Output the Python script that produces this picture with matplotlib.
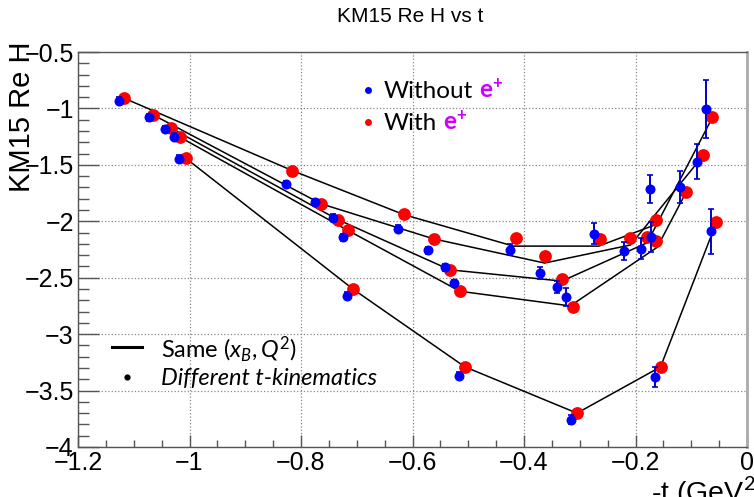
import numpy as np
import matplotlib
matplotlib.use('Agg')
import matplotlib.pyplot as plt
from matplotlib.ticker import MultipleLocator

W, H = 754, 497

# KM15 model lines, one per (xB, Q2) bin
line1_t = [-1.117, -0.816, -0.616, -0.419, -0.266, -0.164]
line1_y = [-0.91, -1.55, -1.94, -2.22, -2.22, -2.03]
line2_t = [-1.066, -0.764, -0.562, -0.363, -0.209, -0.079]
line2_y = [-1.055, -1.845, -2.156, -2.37, -2.21, -1.42]
line3_t = [-1.033, -0.734, -0.533, -0.332, -0.179, -0.062]
line3_y = [-1.175, -1.985, -2.43, -2.53, -2.19, -1.08]
line4_t = [-1.017, -0.716, -0.515, -0.317, -0.161, -0.110]
line4_y = [-1.255, -2.08, -2.62, -2.75, -2.23, -1.75]
line5_t = [-1.007, -0.707, -0.506, -0.305, -0.155, -0.055]
line5_y = [-1.44, -2.60, -3.29, -3.70, -3.29, -2.01]

# extraction with e+
with_t = [-1.117, -0.816, -0.616, -0.415, -0.264, -0.164,
          -1.066, -0.764, -0.562, -0.363, -0.210, -0.079,
          -1.033, -0.734, -0.533, -0.332, -0.179, -0.062,
          -1.017, -0.716, -0.515, -0.313, -0.163, -0.110,
          -1.007, -0.707, -0.506, -0.305, -0.155, -0.055]
with_y = [-0.907, -1.551, -1.932, -2.151, -2.156, -1.985,
          -1.055, -1.844, -2.156, -2.310, -2.147, -1.410,
          -1.173, -1.985, -2.428, -2.511, -2.142, -1.076,
          -1.253, -2.080, -2.620, -2.762, -2.171, -1.740,
          -1.439, -2.599, -3.294, -3.698, -3.294, -2.009]

# extraction without e+
without_t = [-1.126, -0.827, -0.626, -0.426, -0.275, -0.174,
             -1.073, -0.775, -0.572, -0.372, -0.221, -0.089,
             -1.044, -0.743, -0.542, -0.341, -0.191, -0.073,
             -1.027, -0.725, -0.526, -0.324, -0.172, -0.121,
             -1.018, -0.717, -0.516, -0.315, -0.165, -0.064]
without_y = [-0.931, -1.669, -2.065, -2.251, -2.109, -1.711,
             -1.079, -1.829, -2.257, -2.458, -2.266, -1.474,
             -1.182, -1.968, -2.408, -2.582, -2.242, -1.005,
             -1.250, -2.142, -2.546, -2.670, -2.140, -1.696,
             -1.445, -2.659, -3.367, -3.757, -3.382, -2.089]
without_err = [0.03, 0.03, 0.03, 0.05, 0.095, 0.125,
               0.03, 0.03, 0.03, 0.05, 0.08, 0.155,
               0.03, 0.03, 0.03, 0.05, 0.095, 0.26,
               0.03, 0.03, 0.03, 0.08, 0.13, 0.145,
               0.03, 0.03, 0.03, 0.04, 0.09, 0.2]

xtick_labels = ['\u22121.2', '\u22121', '\u22120.8', '\u22120.6', '\u22120.4', '\u22120.2', '0']
ytick_labels = ['\u22124', '\u22123.5', '\u22123', '\u22122.5', '\u22122', '\u22121.5', '\u22121', '\u22120.5']

plt.rcParams['font.family'] = ['Liberation Sans', 'DejaVu Sans']
plt.rcParams['mathtext.fontset'] = 'custom'
plt.rcParams['mathtext.rm'] = 'Lato'
plt.rcParams['mathtext.it'] = 'Lato:italic'
plt.rcParams['mathtext.bf'] = 'Lato:bold'


def fx(x):
    return x / W


def fy(y):
    return 1 - y / H


fig = plt.figure(figsize=(W / 100, H / 100), dpi=100)
ax = fig.add_axes([fx(78), fy(447), (747 - 78) / W, (447 - 52) / H])

for t, y in [(line1_t, line1_y), (line2_t, line2_y), (line3_t, line3_y),
             (line4_t, line4_y), (line5_t, line5_y)]:
    ax.plot(t, y, color='black', lw=1.1, zorder=2)

ax.plot(with_t, with_y, 'o', color='#ff0000', ms=9.2, mec='none', zorder=3)
ax.errorbar(without_t, without_y, yerr=without_err, fmt='o', color='#0000ff',
            ecolor='#0000cc', ms=7.2, mec='none', elinewidth=1.4,
            capsize=2, capthick=1.2, zorder=4)

ax.set_xlim(-1.2, 0)
ax.set_ylim(-4, -0.5)
ax.xaxis.set_minor_locator(MultipleLocator(0.05))
ax.yaxis.set_minor_locator(MultipleLocator(0.1))
ax.set_xticks(np.linspace(-1.2, 0, len(xtick_labels)))
ax.set_xticklabels(xtick_labels)
ax.set_yticks(np.linspace(-4, -0.5, len(ytick_labels)))
ax.set_yticklabels(ytick_labels)
ax.grid(True, which='major', ls=':', color='#888888', lw=0.9)
ax.tick_params(which='both', direction='in', top=False, right=False,
               color='#555555', labelsize=18, pad=3)
ax.tick_params(axis='x', which='major', length=9, width=1)
ax.tick_params(axis='x', which='minor', length=5, width=1)
ax.tick_params(axis='y', which='major', length=15, width=1)
ax.tick_params(axis='y', which='minor', length=8, width=1)
for s in ax.spines.values():
    s.set_color('#555555')
    s.set_linewidth(1)
ax.spines['right'].set_color('#aaaaaa')
ax.spines['right'].set_linewidth(2)

fig.text(fx(410), fy(17), 'KM15 Re H vs t', ha='center', va='center', fontsize=15)
fig.text(fx(22), fy(42), 'KM15 Re H', rotation=90, ha='center', va='top', fontsize=21)
fig.text(fx(651), fy(502), '-t (GeV$^{2}$)', ha='left', va='baseline', fontsize=20.5)

# legend with/without e+
fig.canvas.draw()
r = fig.canvas.get_renderer()
leg = [(90, '#0000ff', 'Without'), (122, '#ff0000', 'With')]
for y, c, label in leg:
    fig.lines.append(plt.Line2D([fx(368)], [fy(y)], marker='o', color=c, ms=5,
                                mec='none', transform=fig.transFigure))
    t = fig.text(fx(384), fy(y + 1), label, ha='left', va='center',
                 fontsize=17.5, family='Lato')
    bb = t.get_window_extent(r)
    fig.text(bb.x1 / W + fx(6), fy(y + 1), r'$\mathbf{e^{+}}$', ha='left',
             va='center', fontsize=17.5, color='#cc00ff')

# legend for lines/points
fig.lines.append(plt.Line2D([fx(112), fx(142)], [fy(347), fy(347)], color='black',
                            lw=2.2, transform=fig.transFigure))
fig.text(fx(161), fy(349), r'Same $\mathit{(x_B,Q^2)}$', ha='left', va='center',
         fontsize=17, family='Lato')
fig.lines.append(plt.Line2D([fx(127)], [fy(377)], marker='o', color='black', ms=4.5,
                            mec='none', transform=fig.transFigure))
fig.text(fx(161), fy(379), 'Different t-kinematics', ha='left', va='center',
         fontsize=17, family='Lato', style='italic')

fig.savefig('out.png', dpi=100)
